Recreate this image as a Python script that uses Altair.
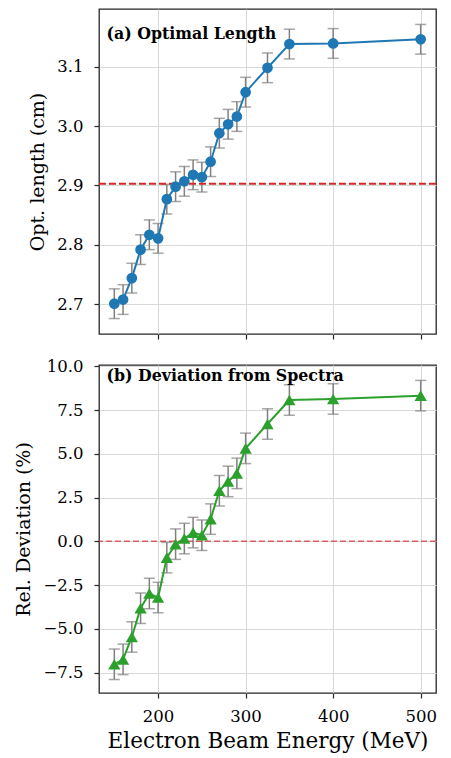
import altair as alt
import pandas as pd

energy = [150, 160, 170, 180, 190, 200, 210, 220, 230, 240, 250, 260, 270, 280, 290, 300, 325, 350, 400, 500]
opt_length = [2.701, 2.708, 2.744, 2.792, 2.817, 2.811, 2.877, 2.898, 2.907, 2.918, 2.914, 2.940,
              2.988, 3.003, 3.016, 3.057, 3.098, 3.138, 3.139, 3.146]
opt_err = [0.025] * 20
rel_dev = [-7.02, -6.74, -5.46, -3.82, -2.98, -3.21, -0.93, -0.16, 0.16, 0.50, 0.35, 1.27,
           2.89, 3.42, 3.88, 5.31, 6.70, 8.07, 8.13, 8.32]
rel_err = [0.87] * 20
ref_length = 2.903
ref_dev = 0.0
x_ticks = [200, 300, 400, 500]
y_ticks_top = [2.7, 2.8, 2.9, 3.0, 3.1]
y_ticks_bot = [-7.5, -5.0, -2.5, 0.0, 2.5, 5.0, 7.5, 10.0]

SERIF = "DejaVu Serif"
W = 337

top_df = pd.DataFrame({
    "E": energy, "v": opt_length,
    "lo": [a - b for a, b in zip(opt_length, opt_err)],
    "hi": [a + b for a, b in zip(opt_length, opt_err)],
})
bot_df = pd.DataFrame({
    "E": energy, "v": rel_dev,
    "lo": [a - b for a, b in zip(rel_dev, rel_err)],
    "hi": [a + b for a, b in zip(rel_dev, rel_err)],
})

xscale = alt.Scale(domain=[132.5, 517.5], nice=False, zero=False)


def panel(df, ydomain, yticks, ytitle, color, shape, size, ref, ref_color, ref_w, ref_dash,
          ref_op, label, label_y, show_x, height):
    if show_x:
        xaxis = alt.Axis(values=x_ticks, labels=True, title="Electron Beam Energy (MeV)",
                         titleFontSize=21.5, titlePadding=6, labelPadding=10)
    else:
        xaxis = alt.Axis(values=x_ticks, labels=False, title=None)
    yscale = alt.Scale(domain=ydomain, nice=False, zero=False)
    yaxis = alt.Axis(values=yticks, format=".1f", title=ytitle, titlePadding=9, labelPadding=11)

    def X():
        return alt.X("E:Q", scale=xscale, axis=xaxis)

    def Y(field):
        return alt.Y(field, scale=yscale, axis=yaxis)

    base = alt.Chart(df)
    bars = base.mark_rule(color="#808080", strokeWidth=1.5).encode(x=X(), y=Y("lo:Q"), y2="hi:Q")
    cap_lo = base.mark_tick(color="#808080", orient="horizontal", size=11, thickness=1.5).encode(x=X(), y=Y("lo:Q"))
    cap_hi = base.mark_tick(color="#808080", orient="horizontal", size=11, thickness=1.5).encode(x=X(), y=Y("hi:Q"))
    refline = alt.Chart(pd.DataFrame({"r": [ref]})).mark_rule(
        color=ref_color, strokeWidth=ref_w, strokeDash=ref_dash, opacity=ref_op
    ).encode(y=Y("r:Q"))
    line = base.mark_line(color=color, strokeWidth=2).encode(x=X(), y=Y("v:Q"))
    pts = base.mark_point(shape=shape, filled=True, size=size, color=color, opacity=1).encode(x=X(), y=Y("v:Q"))
    txt = alt.Chart(pd.DataFrame({"t": [label]})).mark_text(
        align="left", baseline="middle", font=SERIF, fontWeight="bold", fontSize=15.8, color="black"
    ).encode(x=alt.value(7.5), y=alt.value(label_y), text="t:N")
    return alt.layer(bars, cap_lo, cap_hi, refline, line, pts, txt).properties(width=W, height=height)


top = panel(top_df, [2.65, 3.197], y_ticks_top, "Opt. length (cm)", "#1f77b4", "circle", 115,
            ref_length, "#d62728", 2, [7, 3], 1.0, "(a) Optimal Length", 25, False, 325)
bot = panel(bot_df, [-8.66, 10.07], y_ticks_bot, "Rel. Deviation (%)", "#2ca02c", "triangle-up", 150,
            ref_dev, "#d62728", 1.5, [6, 3], 0.7, "(b) Deviation from Spectra", 11, True, 328)

chart = alt.vconcat(top, bot, spacing=16).properties(
    padding={"left": 6, "top": 0, "right": 5, "bottom": 0}
).configure_view(
    stroke="#262626", strokeWidth=1.3
).configure_axis(
    domain=False, grid=True, gridColor="#d8d8d8", gridWidth=1,
    tickColor="#262626", tickSize=5, tickWidth=1.2,
    labelFont=SERIF, labelFontSize=16.5, labelColor="black",
    titleFont=SERIF, titleFontSize=19, titleFontWeight="normal", titleColor="black"
)

chart.save("out.html", embed_options={"renderer": "svg", "actions": False})
